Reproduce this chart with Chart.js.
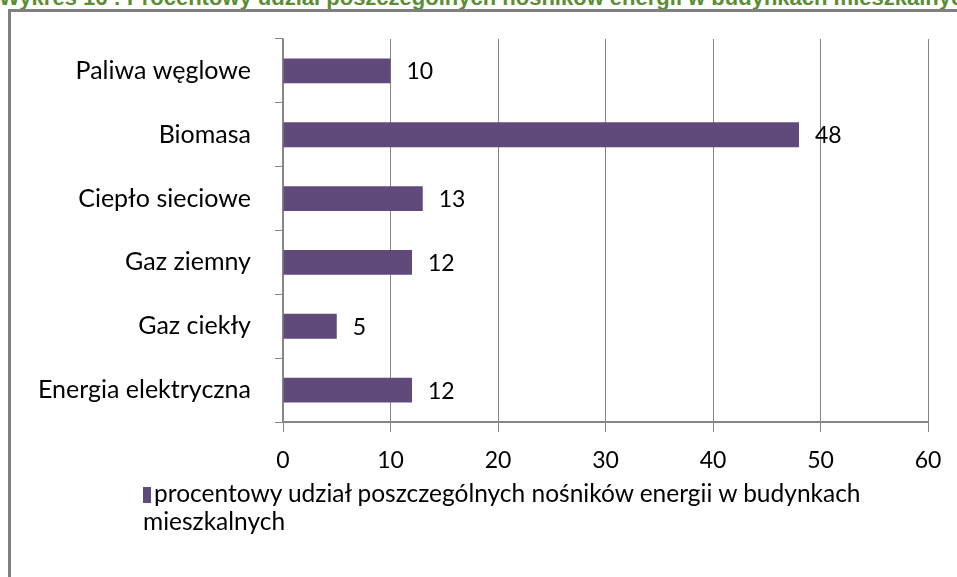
<!DOCTYPE html>
<html>
<head>
<meta charset="utf-8">
<script src="https://cdn.jsdelivr.net/npm/chart.js@4.4.0/dist/chart.umd.min.js"></script>
<style>
    html, body { margin: 0; padding: 0; background: #fff; }
    body { width: 957px; height: 577px; overflow: hidden; position: relative; }
    #title {
        position: absolute; left: -1px; top: -13px; white-space: nowrap;
        font: bold 22px "Liberation Sans", Arial, sans-serif; line-height: 22px; color: #5B8E32;
    }
    #frame {
        position: absolute; left: 8px; top: 9px; width: 980px; height: 600px;
        border: 3px solid #808080; box-sizing: border-box;
    }
    #chart { position: absolute; left: 0; top: 0; }
    #legend {
        position: absolute; left: 143px; top: 479px; width: 780px;
        font: 24.5px Lato, sans-serif; line-height: 28px; color: #000;
    }
    #legend .box {
        display: inline-block; width: 8px; height: 16px; margin-right: 3px;
        vertical-align: -1px;
    }
</style>
</head>
<body>
<div id="title">Wykres 16 : Procentowy udział poszczególnych nośników energii w budynkach mieszkalnych</div>
<div id="frame"></div>
<canvas id="chart" width="957" height="577"></canvas>
<div id="legend"></div>
<script>
// dane z wykresu
const categories = ['Paliwa węglowe', 'Biomasa', 'Ciepło sieciowe', 'Gaz ziemny', 'Gaz ciekły', 'Energia elektryczna'];
const shares = [10, 48, 13, 12, 5, 12];
const xTickValues = [0, 10, 20, 30, 40, 50, 60];
const seriesLabel = 'procentowy udział poszczególnych nośników energii w budynkach mieszkalnych';

const barColor = '#604A7B';
const gridColor = '#868686';
const fontFamily = 'Lato, sans-serif';

// etykiety wartości obok słupków
const valueLabels = {
    id: 'valueLabels',
    afterDatasetsDraw(chart) {
        const ctx = chart.ctx;
        ctx.save();
        ctx.font = '23px ' + fontFamily;
        ctx.fillStyle = '#000';
        ctx.textAlign = 'left';
        ctx.textBaseline = 'middle';
        chart.getDatasetMeta(0).data.forEach(function (bar, i) {
            ctx.fillText(String(chart.data.datasets[0].data[i]), bar.x + 16, bar.y + 1);
        });
        ctx.restore();
    }
};

const ctx = document.getElementById('chart').getContext('2d');
const chart = new Chart(ctx, {
    type: 'bar',
    data: {
        labels: categories,
        datasets: [{
            label: seriesLabel,
            data: shares,
            backgroundColor: barColor,
            categoryPercentage: 1,
            barPercentage: 0.39
        }]
    },
    options: {
        indexAxis: 'y',
        responsive: false,
        animation: false,
        layout: { padding: { top: 37, right: 29, bottom: 95, left: 0 } },
        plugins: {
            legend: { display: false },
            tooltip: { enabled: false }
        },
        scales: {
            x: {
                min: 0,
                max: 60,
                afterBuildTicks: function (scale) {
                    scale.ticks = xTickValues.map(v => ({ value: v }));
                },
                afterFit: function (scale) { scale.height = 60; },
                grid: { color: gridColor, lineWidth: 1, tickLength: 10 },
                border: { color: gridColor, width: 2 },
                ticks: { color: '#000', padding: 15, font: { family: fontFamily, size: 23 } }
            },
            y: {
                afterFit: function (scale) { scale.width = 283; },
                grid: { color: gridColor, drawOnChartArea: false, tickLength: 8 },
                border: { color: gridColor, width: 1.5 },
                ticks: { color: '#000', padding: 24, font: { family: fontFamily, size: 25 } }
            }
        }
    },
    plugins: [valueLabels]
});

// legenda w HTML (tekst zawija się na dwie linie)
document.getElementById('legend').innerHTML =
    '<span class="box" style="background:' + barColor + '"></span>' + chart.data.datasets[0].label;
</script>
</body>
</html>
